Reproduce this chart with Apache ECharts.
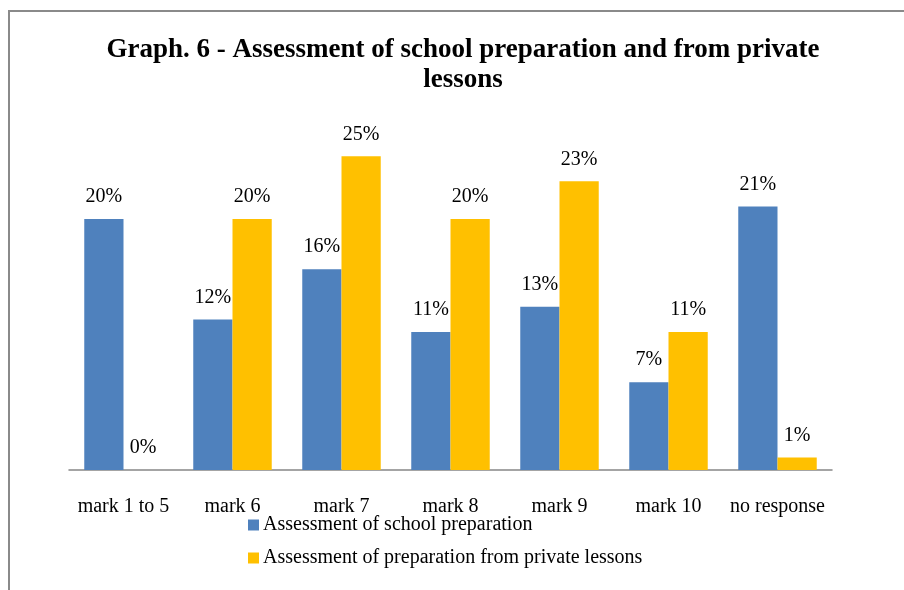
<!DOCTYPE html>
<html>
<head>
<meta charset="utf-8">
<script src="https://cdn.jsdelivr.net/npm/echarts@6/dist/echarts.min.js"></script>
<style>
  html, body { margin: 0; padding: 0; background: #fff; }
  #chart { width: 904px; height: 590px; }
</style>
</head>
<body>
<div id="chart"></div>
<script>
// Marks given by students, per category
const categories = ['mark 1 to 5', 'mark 6', 'mark 7', 'mark 8', 'mark 9', 'mark 10', 'no response'];
const schoolPreparation = [20, 12, 16, 11, 13, 7, 21];
const privateLessons = [0, 20, 25, 20, 23, 11, 1];
const seriesNames = ['Assessment of school preparation', 'Assessment of preparation from private lessons'];

const chart = echarts.init(document.getElementById('chart'), null, { renderer: 'canvas' });
const serif = '"Liberation Serif", "Times New Roman", serif';

const labelStyle = {
  show: true,
  position: 'top',
  distance: 12,
  formatter: p => p.value + '%',
  color: '#000',
  fontFamily: serif,
  fontSize: 20
};

chart.setOption({
  animation: false,
  backgroundColor: '#fff',
  title: {
    text: 'Graph. 6 - Assessment of school preparation and from private\nlessons',
    left: 458,
    top: 30,
    textAlign: 'center',
    textStyle: {
      fontFamily: serif,
      fontWeight: 'bold',
      fontSize: 27,
      lineHeight: 30,
      color: '#000'
    }
  },
  graphic: [{
    type: 'rect',
    shape: { x: 9, y: 11, width: 1000, height: 1000 },
    style: { fill: 'none', stroke: '#8a8a8a', lineWidth: 2 },
    silent: true
  }],
  legend: {
    orient: 'vertical',
    left: 243,
    top: 510,
    itemWidth: 11,
    itemHeight: 11,
    itemGap: 13,
    icon: 'rect',
    textStyle: { fontFamily: serif, fontSize: 20, color: '#000', padding: [0, 0, 0, -1] },
    data: seriesNames
  },
  grid: { left: 69, right: 72, top: 93.5, bottom: 120 },
  xAxis: {
    type: 'category',
    data: categories,
    axisLine: { lineStyle: { color: '#868686', width: 1.5 } },
    axisTick: { show: false },
    axisLabel: { interval: 0, fontFamily: serif, fontSize: 20, color: '#000', margin: 27 }
  },
  yAxis: {
    type: 'value',
    min: 0,
    max: 30,
    show: false,
    splitLine: { show: false }
  },
  series: [
    {
      name: seriesNames[0],
      type: 'bar',
      data: schoolPreparation,
      itemStyle: { color: '#4F81BD' },
      barGap: '0%',
      barCategoryGap: '28%',
      label: labelStyle
    },
    {
      name: seriesNames[1],
      type: 'bar',
      data: privateLessons,
      itemStyle: { color: '#FFC000' },
      label: labelStyle
    }
  ]
});
</script>
</body>
</html>
